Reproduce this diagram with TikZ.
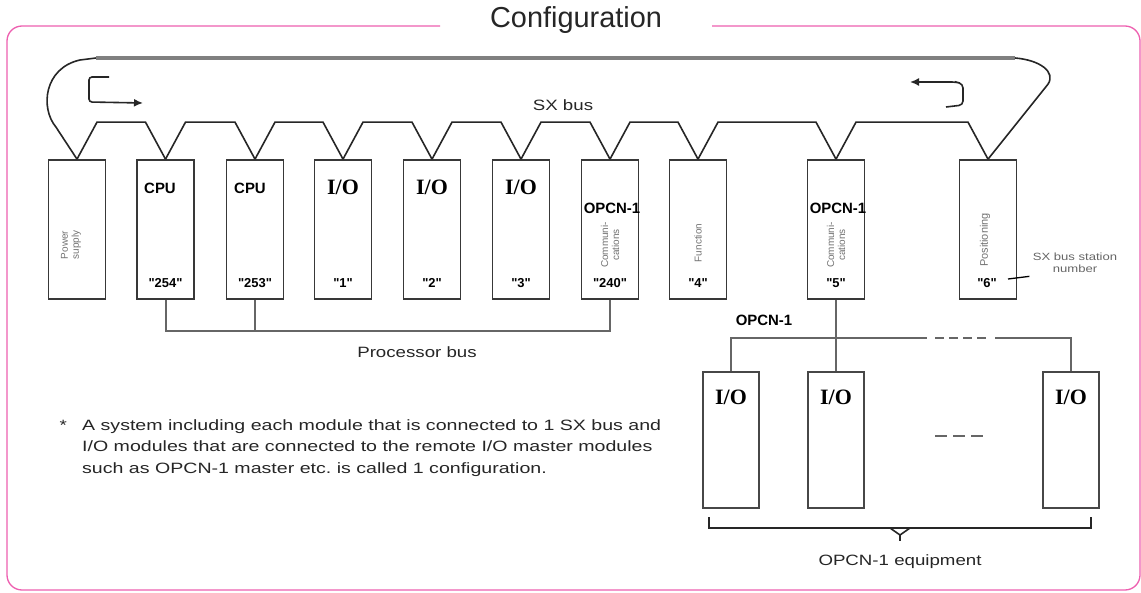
\documentclass[tikz,border=0pt]{standalone}
\usepackage{fontspec}
\setmainfont{Liberation Sans}
\newfontfamily\wide[FakeStretch=1.25]{Liberation Sans}
\newfontfamily\notefont[FakeStretch=1.31]{Liberation Sans}
\newfontfamily\plainsans{Liberation Sans}
\newfontfamily\serifb{Liberation Serif}
\usetikzlibrary{calc,arrows.meta}
\definecolor{framepink}{RGB}{238,96,176}
\begin{document}
\begin{tikzpicture}[x=1bp,y=-1bp,
  module/.style={draw=black!78, line width=1.7bp, minimum width=57bp, minimum height=139bp, inner sep=0pt},
  iomod/.style={draw=black!72, line width=1.7bp, minimum width=56bp, minimum height=136bp, inner sep=0pt},
  sx/.style={draw=black!85, line width=1.6bp},
  topbus/.style={draw=black!50, line width=3.5bp},
  pbus/.style={draw=black!60, line width=2bp},
  txt/.style={font=\wide\fontsize{15}{18}\selectfont, text=black!85},
  toplab/.style={font=\bfseries\fontsize{15}{15}\selectfont, inner sep=1pt},
  iolab/.style={font=\serifb\bfseries\fontsize{22}{22}\selectfont, inner sep=0pt},
  numlab/.style={font=\plainsans\bfseries\fontsize{13}{13}\selectfont, inner sep=0pt},
  rot/.style={rotate=90, font=\fontsize{10}{11}\selectfont, text=black!55, align=center, inner sep=0pt}
]
\useasboundingbox (0,0) rectangle (1141,593);
\fill[white] (0,0) rectangle (1141,593);

% frame and title
\draw[framepink, line width=1.3bp, rounded corners=15bp]
  (440,26) -- (7,26) -- (7,590) -- (1140,590) -- (1140,26) -- (712,26);
\node[font=\fontsize{29}{29}\selectfont, text=black!85] (title) at (576,20) {Configuration};

% modules on SX bus
\foreach \n/\c in {1/77,2/165.5,3/255,4/343,5/432,6/521,7/610,8/698,9/836,10/988}
  \node[module] (m\n) at (\c,229.5) {};

% SX bus zigzag
\foreach \a/\b in {1/2,2/3,3/4,4/5,5/6,6/7,7/8,8/9,9/10}
  \draw[sx] (m\a.north) -- ++(20,-37) -- ($(m\b.north)+(-20,-37)$) -- (m\b.north);
\draw[sx] (m1.north) -- ++(-21,-32) .. controls (40,108) and (44,68) .. (80,60) -- (96,58);
\draw[topbus] (96,58) -- (1015,58);
\draw[sx] (m10.north) -- ++(60,-75) .. controls (1056,72) and (1040,60) .. (1015,58);

% direction arrows
\draw[sx, rounded corners=3bp, -{Latex[length=9bp,width=8bp]}]
  (109,77) -- (89,77) -- (89,102) -- (143,103);
\draw[sx, rounded corners=4bp, -{Latex[length=9bp,width=8bp]}]
  (946,107) -- (963,105) -- (963,84) -- (956,82) -- (910,82);
\node[txt] (sxbus) at (563,105) {SX bus};

% module texts
\node[rot] (ps) at (71,245) {Power\\supply};
\node[toplab] (l2) at (160,188) {CPU};
\node[numlab] (n2) at (165.5,283) {"254"};
\node[toplab] (l3) at (250,188) {CPU};
\node[numlab] (n3) at (255,283) {"253"};
\node[iolab] (l4) at (343,187) {I/O};
\node[numlab] (n4) at (343,283) {"1"};
\node[iolab] (l5) at (432,187) {I/O};
\node[numlab] (n5) at (432,283) {"2"};
\node[iolab] (l6) at (521,187) {I/O};
\node[numlab] (n6) at (521,283) {"3"};
\node[toplab] (l7) at (612,208) {OPCN-1};
\node[rot] (c7) at (610,245) {Communi-\\cations};
\node[numlab] (n7) at (610,283) {"240"};
\node[rot] (f8) at (698,243) {Function};
\node[numlab] (n8) at (698,283) {"4"};
\node[toplab] (l9) at (838,208) {OPCN-1};
\node[rot] (c9) at (836,245) {Communi-\\cations};
\node[numlab] (n9) at (836,283) {"5"};
\node[rot, font=\fontsize{11}{12}\selectfont] (p10) at (985,240) {Positioning};
\node[numlab] (n10) at (987,283) {"6"};

% station number callout
\node[font=\wide\fontsize{10.5}{12}\selectfont, text=black!60, align=center] (stn) at (1075,263) {SX bus station\\number};
\coordinate (lead) at (1008,279);
\draw[black, line width=1.3bp] (lead) -- (stn.south west);

% processor bus
\draw[pbus] (m2.south) -- ++(0,31) -| (m7.south);
\draw[pbus] (m3.south) -- ++(0,31);
\node[txt] (pbl) at (417,352) {Processor bus};

% OPCN-1 remote I/O
\node[iomod] (io1) at (731,440) {};
\node[iomod] (io2) at (836,440) {};
\node[iomod] (io3) at (1071,440) {};
\node[iolab] at (731,397) {I/O};
\node[iolab] at (836,397) {I/O};
\node[iolab] at (1071,397) {I/O};
\node[toplab] (ol) at (764,320) {OPCN-1};
\coordinate (oa) at (927,338);
\coordinate (ob) at (995,338);
\draw[pbus] (io1.north) |- (oa);
\draw[pbus] (io3.north) |- (ob);
\draw[pbus, dash pattern=on 9bp off 5bp] ($(oa)+(8,0)$) -- ($(ob)+(-9,0)$);
\draw[pbus] (m9.south) -- (io2.north);
\coordinate (da) at (935,436);
\coordinate (db) at (987,436);
\draw[black!60, line width=1.8bp, dash pattern=on 12bp off 6bp] (da) -- (db);

% brace
\coordinate (bl) at (709,517);
\coordinate (br) at (1091,517);
\coordinate (bm) at (900,528);
\draw[sx] (bl) -- (709,528) -- (1091,528) -- (br);
\draw[sx] ($(bm)+(-10,0)$) -- ($(bm)+(0,7)$) -- ($(bm)+(10,0)$);
\draw[sx] ($(bm)+(0,7)$) -- ($(bm)+(0,13)$);
\node[txt] (eq) at (900,562) {OPCN-1 equipment};

% note
\node[txt, anchor=west] (star) at (56,425) {*};
\node[anchor=north west, align=left, inner sep=0pt, text=black!85,
      font=\notefont\fontsize{15}{22}\selectfont] (note) at (82,419)
  {A system including each module that is connected to 1 SX bus and\\
   I/O modules that are connected to the remote I/O master modules\\
   such as OPCN-1 master etc.\ is called 1 configuration.};
\end{tikzpicture}
\end{document}
